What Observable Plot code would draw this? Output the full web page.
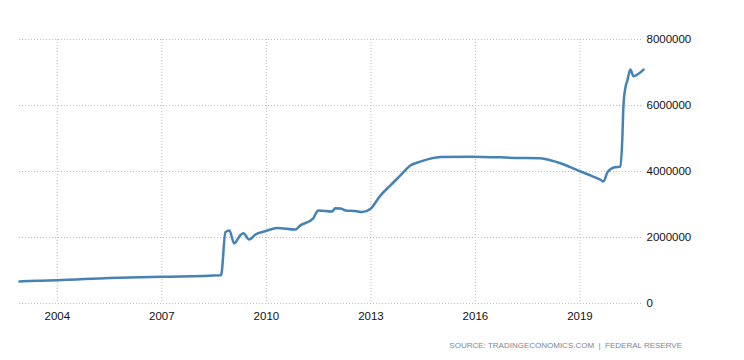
<!DOCTYPE html>
<html>
<head>
<meta charset="utf-8">
<script src="https://cdn.jsdelivr.net/npm/d3@7"></script>
<script src="https://cdn.jsdelivr.net/npm/@observablehq/plot@0.6"></script>
<style>
  html, body { margin: 0; padding: 0; background: #fff; }
  #chart { width: 744px; }
  #source { width: 744px; height: 28px; line-height: 28px; box-sizing: border-box; padding-right: 62px; text-align: right;
    font-family: "Liberation Sans", Arial, sans-serif; font-size: 8px; letter-spacing: 0px; word-spacing: 0px; color: #7d8591; }
</style>
</head>
<body>
<div id="chart"></div>
<div id="source">SOURCE: TRADINGECONOMICS.COM &nbsp;|&nbsp; FEDERAL RESERVE</div>
<script>
const dates = [
  "2002-12-01","2003-06-01","2004-01-01","2005-07-01","2007-01-01","2008-09-10",
  "2008-09-17","2008-10-28","2008-12-10","2009-01-28","2009-04-01","2009-05-05",
  "2009-07-05","2009-09-08","2009-12-20","2010-04-25","2010-10-30","2010-12-20",
  "2011-05-05","2011-06-28","2011-11-22","2011-12-25","2012-02-15","2012-04-08",
  "2012-07-22","2012-10-03","2012-12-28","2013-04-10","2013-07-24","2013-11-06",
  "2014-02-18","2014-06-03","2014-09-16","2014-12-30","2015-11-10","2017-04-16",
  "2017-11-12","2018-02-25","2018-06-10","2018-09-23","2019-01-06","2019-04-20",
  "2019-08-04","2019-09-05","2019-10-16","2019-12-30","2020-03-01","2020-03-20",
  "2020-04-01","2020-04-22","2020-05-12","2020-06-12","2020-07-15","2020-09-06",
  "2020-10-28"
];
const values = [
  667000, 690000, 706000, 770000, 809000, 858000,
  900000, 2160000, 2210000, 1820000, 2060000, 2130000,
  1940000, 2090000, 2190000, 2290000, 2240000, 2360000,
  2570000, 2820000, 2790000, 2890000, 2880000, 2820000,
  2800000, 2770000, 2870000, 3270000, 3580000, 3880000,
  4180000, 4300000, 4390000, 4440000, 4450000, 4410000,
  4400000, 4340000, 4250000, 4130000, 4000000, 3880000,
  3750000, 3700000, 3980000, 4130000, 4150000, 5000000,
  6000000, 6550000, 6760000, 7090000, 6890000, 6960000,
  7090000
];
const xTickYears = [2004, 2007, 2010, 2013, 2016, 2019];
const yTicks = [0, 2000000, 4000000, 6000000, 8000000];

const data = dates.map((d, i) => ({date: new Date(d + "T00:00:00Z"), value: values[i]}));
const xTicks = xTickYears.map(y => new Date(Date.UTC(y, 0, 1)));

const chart = Plot.plot({
  width: 744,
  height: 332,
  marginTop: 39,
  marginBottom: 29,
  marginLeft: 19,
  marginRight: 101,
  style: {fontFamily: "'Liberation Sans', Arial, sans-serif", fontSize: "11.5px", color: "#111", background: "#fff"},
  x: {type: "utc", domain: [data[0].date, data[data.length - 1].date]},
  y: {domain: [0, 8000000]},
  marks: [
    Plot.gridY(yTicks, {stroke: "#bbb", strokeOpacity: 1, strokeDasharray: "1,2"}),
    Plot.gridX(xTicks, {stroke: "#bbb", strokeOpacity: 1, strokeDasharray: "1,2"}),
    Plot.axisY(yTicks, {anchor: "right", tickSize: 0, tickPadding: 3, tickFormat: d3.format("d"), label: null}),
    Plot.axisX(xTicks, {anchor: "bottom", tickSize: 0, tickPadding: 8, tickFormat: d3.utcFormat("%Y"), label: null}),
    Plot.line(data, {x: "date", y: "value", stroke: "#4682b4", strokeWidth: 2.5, curve: "monotone-x"})
  ]
});
document.getElementById("chart").append(chart);
</script>
</body>
</html>
